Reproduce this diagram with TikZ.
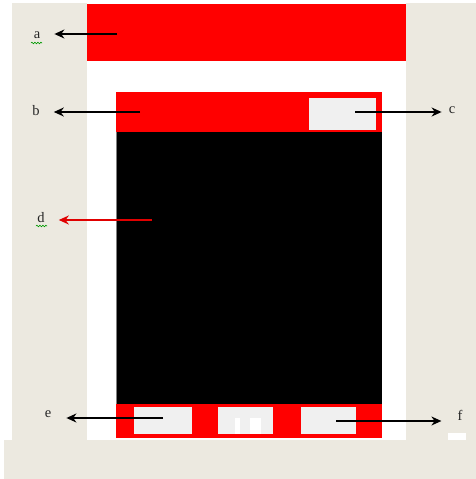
\documentclass[tikz,border=0pt]{standalone}
\usepackage{fontspec}
\setmainfont{Liberation Serif}
\usetikzlibrary{arrows.meta,decorations.pathmorphing}
\definecolor{beige}{HTML}{ECE9E0}
\definecolor{lgray}{HTML}{F0F0F0}
\definecolor{sred}{HTML}{FF0000}
\definecolor{darrow}{HTML}{E00000}
\tikzset{
  lbl/.style={inner sep=0pt, font=\fontsize{14.5}{16}\selectfont, text=black!85},
  arr/.style={line width=1.5pt, -{Stealth[length=10pt,width=9pt]}},
  btn/.style={fill=lgray, draw=none},
  squig/.style={green!60!black, line width=0.6pt, decorate, decoration={snake, amplitude=0.8pt, segment length=3pt}}
}
\begin{document}
\begin{tikzpicture}[x=1pt,y=-1pt]
\useasboundingbox (0,0) rectangle (476,479);
% backgrounds
\fill[white] (0,0) rectangle (476,479);
\fill[beige] (12,3) rectangle (476,440);
\fill[beige] (4,440) rectangle (476,479);
\fill[white] (87,3) rectangle (406,440);
\fill[white] (448,433) rectangle (466,440);
% top red bar
\fill[sred] (87,4) rectangle (406,61);
% phone frame
\fill[sred] (116,92) rectangle (382,132);
\fill[btn] (309,98) rectangle (376,130);
\fill[black] (116,132) rectangle (382,404);
\draw[gray, line width=0.5pt] (116,132) -- (116,404);
\fill[sred] (116,404) rectangle (382,438);
\fill[btn] (134,407) rectangle (192,434);
\fill[btn] (218,407) rectangle (273,434);
\fill[btn] (301,407) rectangle (356,434);
\fill[white] (235,418) rectangle (240,434);
\fill[white] (250,418) rectangle (261,434);
% labels
\node[lbl] (la) at (37,35) {a};
\node[lbl] (lb) at (36,111) {b};
\node[lbl] (lc) at (452,110) {c};
\node[lbl] (ld) at (41,218) {d};
\node[lbl] (le) at (48,414) {e};
\node[lbl] (lf) at (460,415) {f};
\draw[squig] (31,43) -- (42,43);
\draw[squig] (36,226) -- (47,226);
% arrow start points
\coordinate (sa) at (117,34);
\coordinate (sb) at (140,112);
\coordinate (sc) at (355,112);
\coordinate (sd) at (152,220);
\coordinate (se) at (163,418);
\coordinate (sf) at (336,421);
% arrows
\draw[arr, shorten >=14pt] (sa) -- (sa -| la.east);
\draw[arr, shorten >=14pt] (sb) -- (sb -| lb.east);
\draw[arr, shorten >=7pt] (sc) -- (sc -| lc.west);
\draw[arr, darrow, shorten >=14pt] (sd) -- (sd -| ld.east);
\draw[arr, shorten >=15pt] (se) -- (se -| le.east);
\draw[arr, shorten >=16pt] (sf) -- (sf -| lf.west);
\end{tikzpicture}
\end{document}
